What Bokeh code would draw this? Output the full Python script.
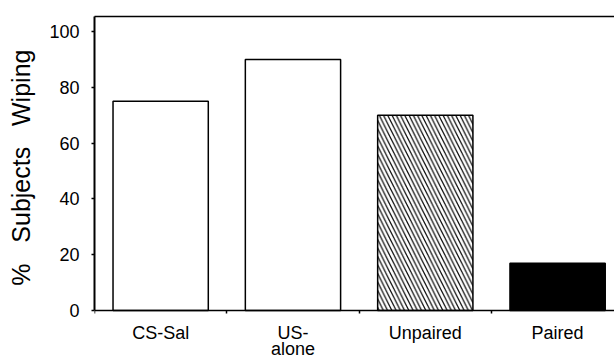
from bokeh.plotting import figure
from bokeh.models import ColumnDataSource, FixedTicker, LinearAxis, Range1d
from bokeh.embed import file_html
from bokeh.resources import INLINE

# Percentage of subjects wiping, per group
groups = ["CS-Sal", "US-\nalone", "Unpaired", "Paired"]
pct_wiping = [75, 90, 70, 17]
fills = ["white", "white", "white", "black"]
hatches = [" ", " ", "\\", " "]
y_ticks = [0, 20, 40, 60, 80, 100]

FONT = "Liberation Sans"
Y_TOP = 105.4
NBSP = "\u00a0"

xs = list(range(1, len(groups) + 1))
src = ColumnDataSource(dict(x=xs, top=pct_wiping, fill=fills, hatch=hatches))

# the frame runs down to the bottom edge so the group names sit inside it
p = figure(width=614, height=360, output_backend="svg", toolbar_location=None,
           x_range=Range1d(0.5, 4.43), y_range=Range1d(-17.9, Y_TOP),
           min_border_left=94, min_border_right=0, min_border_top=16,
           min_border_bottom=0, background_fill_color="white",
           border_fill_color="white", outline_line_color=None)
p.grid.visible = False

p.vbar(x="x", top="top", bottom=0, width=0.72, source=src,
       fill_color="fill", line_color="black", line_width=1.5,
       hatch_pattern="hatch", hatch_color="black", hatch_scale=8.5,
       hatch_weight=1.2)

# x axis pinned at y = 0: group names under the bars, small ticks between groups
xa = p.xaxis[0]
xa.fixed_location = 0
xa.ticker = FixedTicker(ticks=xs, minor_ticks=[0.5, 1.5, 2.5, 3.5])
xa.major_label_overrides = {x: g for x, g in zip(xs, groups)}
xa.major_tick_out = 0
xa.major_tick_in = 0
xa.minor_tick_out = 3
xa.minor_tick_in = 0
xa.minor_tick_line_width = 1.5
xa.axis_line_width = 1.5
xa.major_label_standoff = 9
xa.major_label_text_font = FONT
xa.major_label_text_font_size = "18px"
xa.major_label_text_line_height = 0.8
xa.major_label_text_color = "black"

# y axis, drawn from 0 up to the top of the frame
ya = p.yaxis[0]
ya.bounds = (0, Y_TOP)
ya.ticker = FixedTicker(ticks=y_ticks, minor_ticks=[])
ya.major_tick_out = 3
ya.major_tick_in = 0
ya.major_tick_line_width = 1.5
ya.axis_line_width = 2
ya.major_label_standoff = 12
ya.major_label_text_font = FONT
ya.major_label_text_font_size = "18px"
ya.major_label_text_color = "black"
# leading padding lifts the title to the middle of the 0-100 span
ya.axis_label = NBSP * 6 + "%" + NBSP * 3 + "Subjects" + NBSP * 3 + "Wiping"
ya.axis_label_text_font = FONT
ya.axis_label_text_font_size = "25px"
ya.axis_label_text_font_style = "normal"
ya.axis_label_text_color = "black"
ya.axis_label_standoff = 11

# top border of the frame
top = LinearAxis(ticker=FixedTicker(ticks=[]), major_label_text_font_size="0px",
                 axis_line_width=1.5, major_tick_line_color=None,
                 minor_tick_line_color=None)
p.add_layout(top, "above")

open("out.html", "w").write(file_html(p, INLINE))
